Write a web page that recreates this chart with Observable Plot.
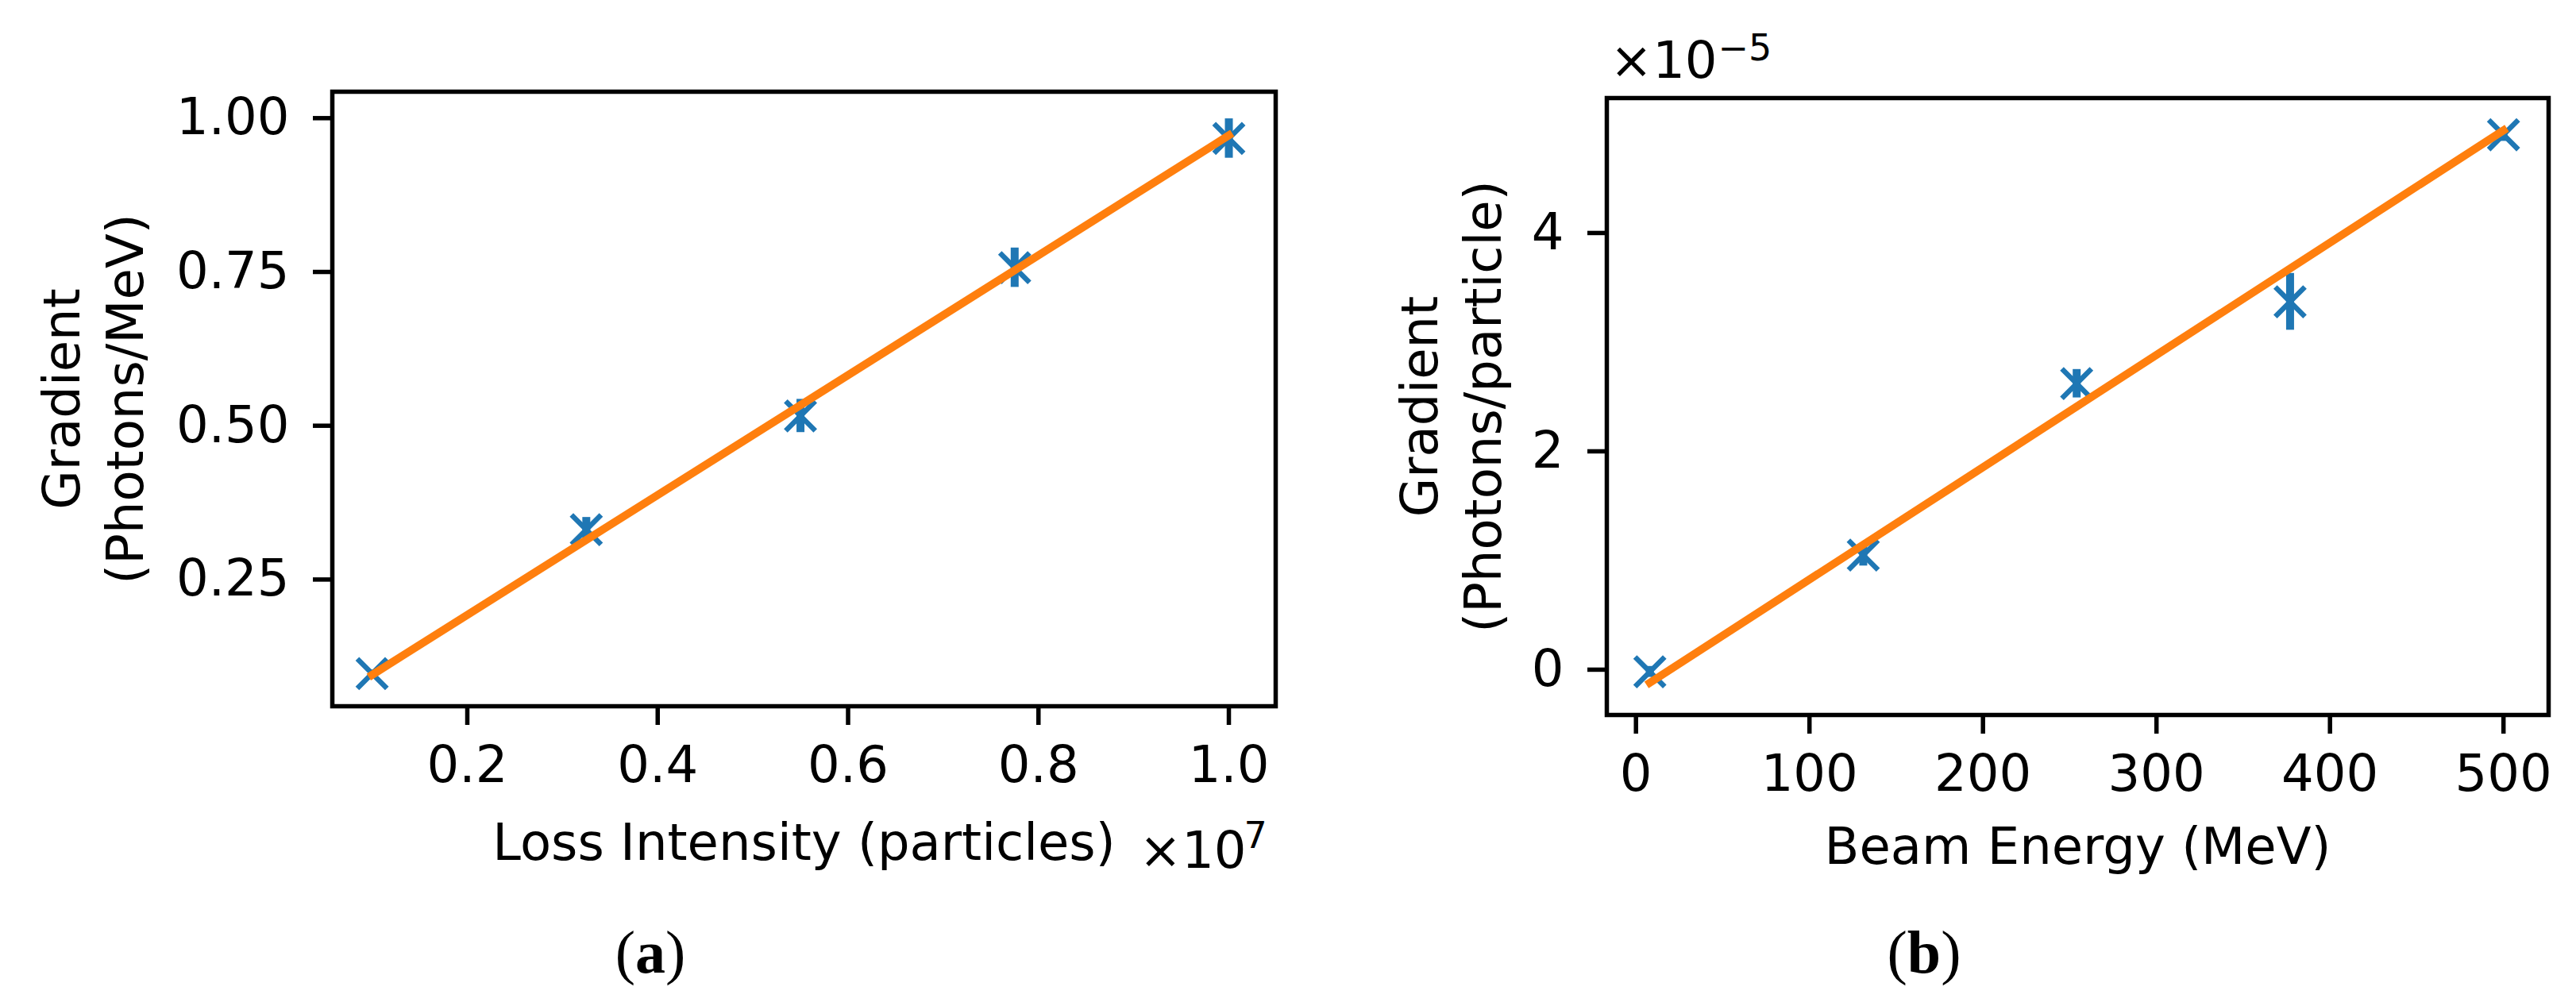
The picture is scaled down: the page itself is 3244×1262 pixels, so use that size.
<!DOCTYPE html>
<html>
<head>
<meta charset="utf-8">
<script src="https://cdn.jsdelivr.net/npm/d3@7"></script>
<script src="https://cdn.jsdelivr.net/npm/@observablehq/plot@0.6"></script>
<style>
html, body { margin: 0; padding: 0; background: #fff; }
#fig { position: relative; width: 3244px; height: 1262px; background: #fff; overflow: hidden; }
.panel { position: absolute; top: 0; }
.cap { position: absolute; font-family: "Liberation Serif", "DejaVu Serif", serif; font-size: 76px; line-height: 76px; color: #000; transform: translateX(-50%); white-space: nowrap; }
.cap b { font-weight: bold; }
</style>
</head>
<body>
<div id="fig">
  <div class="panel" id="pa" style="left:0px"></div>
  <div class="panel" id="pb" style="left:1622px"></div>
  <div class="cap" style="left:819px; top:1161px">(<b>a</b>)</div>
  <div class="cap" style="left:2423px; top:1161px">(<b>b</b>)</div>
</div>
<script>
// ---------- Panel (a) data ----------
const lossIntensity = [1.0e6, 3.25e6, 5.5e6, 7.75e6, 1.0e7];      // particles
const gradientA     = [0.097, 0.331, 0.516, 0.757, 0.967];        // photons/MeV
const errorA        = [0.006, 0.020, 0.027, 0.032, 0.032];
const fitXA         = [1.0e6, 1.0e7];
const fitYA         = [0.095, 0.972];
const xTicksA       = [2e6, 4e6, 6e6, 8e6, 1e7];
const xTickLabelsA  = ["0.2", "0.4", "0.6", "0.8", "1.0"];
const yTicksA       = [0.25, 0.5, 0.75, 1.0];
const yTickLabelsA  = ["0.25", "0.50", "0.75", "1.00"];

// ---------- Panel (b) data ----------
const beamEnergy    = [8, 131, 254, 377, 500];                    // MeV
const gradientB     = [-0.02e-5, 1.05e-5, 2.62e-5, 3.37e-5, 4.90e-5]; // photons/particle
const errorB        = [0.05e-5, 0.10e-5, 0.13e-5, 0.26e-5, 0.06e-5];
const fitXB         = [8, 500];
const fitYB         = [-0.12e-5, 4.94e-5];
const xTicksB       = [0, 100, 200, 300, 400, 500];
const xTickLabelsB  = ["0", "100", "200", "300", "400", "500"];
const yTicksB       = [0, 2e-5, 4e-5];
const yTickLabelsB  = ["0", "2", "4"];

const blue = "#1f77b4", orange = "#ff7f0e";
const FONT = 64;

function makePanel(o) {
  const rows = o.xs.map((x, i) => ({x, y: o.ys[i], e: o.es[i]}));
  const fit = o.fx.map((x, i) => ({x, y: o.fy[i]}));
  return Plot.plot({
    width: 1622,
    height: 1130,
    marginLeft: o.margin[0],
    marginRight: o.margin[1],
    marginTop: o.margin[2],
    marginBottom: o.margin[3],
    x: {domain: o.xDomain},
    y: {domain: o.yDomain},
    style: {fontFamily: "DejaVu Sans", fontSize: FONT + "px", color: "black", background: "white", overflow: "visible"},
    marks: [
      Plot.ruleX(rows, {x: "x", y1: d => d.y - d.e, y2: d => d.y + d.e, stroke: blue, strokeWidth: 10}),
      Plot.dot(rows, {x: "x", y: "y", symbol: "times", r: 17, stroke: blue, strokeWidth: 6.5}),
      Plot.line(fit, {x: "x", y: "y", stroke: orange, strokeWidth: 10, strokeLinecap: "square"}),
      Plot.frame({stroke: "black", strokeWidth: 5.5}),
      Plot.axisX({ticks: o.xTicks, tickFormat: d => o.xTickLabels[o.xTicks.indexOf(d)], tickSize: 24, tickPadding: 26, strokeWidth: 5.5, label: null}),
      Plot.axisY({ticks: o.yTicks, tickFormat: d => o.yTickLabels[o.yTicks.indexOf(d)], tickSize: 24, tickPadding: 30, strokeWidth: 5.5, label: null}),
      Plot.text([o.yLabel], {frameAnchor: "left", dx: o.yLabelDx, rotate: -90, lineHeight: 1.25, lineAnchor: "middle", textAnchor: "middle"}),
      Plot.text([o.xLabel], {frameAnchor: "bottom", dy: o.xLabelDy, lineAnchor: "bottom", textAnchor: "middle"}),
      Plot.text([o.offMain], {frameAnchor: o.offAnchor, dx: o.offDx, dy: o.offDy, lineAnchor: "bottom", textAnchor: "start"}),
      Plot.text([o.offSup], {frameAnchor: o.offAnchor, dx: o.supDx, dy: o.supDy, lineAnchor: "bottom", textAnchor: "start", fontSize: 46})
    ]
  });
}

document.getElementById("pa").appendChild(makePanel({
  xs: lossIntensity, ys: gradientA, es: errorA, fx: fitXA, fy: fitYA,
  xDomain: [0.0582e7, 1.0492e7], yDomain: [0.044, 1.043],
  xTicks: xTicksA, xTickLabels: xTickLabelsA, yTicks: yTicksA, yTickLabels: yTickLabelsA,
  margin: [418, 16, 115, 241],
  yLabel: "Gradient\n(Photons/MeV)", yLabelDx: -304,
  xLabel: "Loss Intensity (particles)", xLabelDy: 193,
  offMain: "×10", offSup: "7", offAnchor: "bottom-right",
  offDx: -172, offDy: 203, supDx: -40, supDy: 178
}));

document.getElementById("pb").appendChild(makePanel({
  xs: beamEnergy, ys: gradientB, es: errorB, fx: fitXB, fy: fitYB,
  xDomain: [-16.8, 526], yDomain: [-0.415e-5, 5.236e-5],
  xTicks: xTicksB, xTickLabels: xTickLabelsB, yTicks: yTicksB, yTickLabels: yTickLabelsB,
  margin: [401, 35, 123, 230],
  yLabel: "Gradient\n(Photons/particle)", yLabelDx: -199,
  xLabel: "Beam Energy (MeV)", xLabelDy: 187,
  offMain: "×10", offSup: "−5", offAnchor: "top-left",
  offDx: 4, offDy: -26, supDx: 140, supDy: -48
}));
</script>
</body>
</html>
